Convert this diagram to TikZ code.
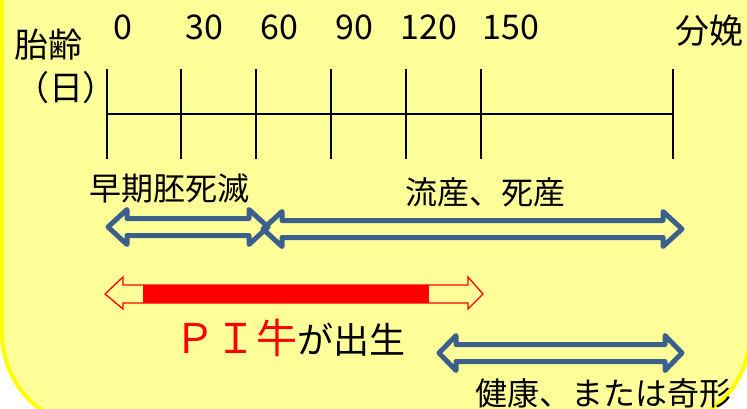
\documentclass[tikz,border=0pt]{standalone}
\usepackage{fontspec}
\setmainfont{Noto Sans CJK JP}
\definecolor{bgfill}{RGB}{255,255,153}
\definecolor{bgline}{RGB}{255,255,0}
\definecolor{arrblue}{RGB}{60,96,140}
\newcommand\mydblarrow[4]{%
  \draw[bluearr] (#1,#3) -- ({#1+#4},{#3-17.5}) -- ({#1+#4},{#3-8.5}) -- ({#2-#4},{#3-8.5})
    -- ({#2-#4},{#3-17.5}) -- (#2,#3) -- ({#2-#4},{#3+17.5}) -- ({#2-#4},{#3+8.5})
    -- ({#1+#4},{#3+8.5}) -- ({#1+#4},{#3+17.5}) -- cycle;}
\begin{document}
\begin{tikzpicture}[x=1pt,y=-1pt,
  axis/.style={line width=1.6pt,black},
  bluearr/.style={draw=arrblue,line width=5pt,line join=round,line cap=round},
  lbl/.style={inner sep=0pt,font=\fontsize{32}{38}\selectfont},
  axlbl/.style={inner sep=0pt,font=\fontsize{34}{40}\selectfont},
  num/.style={inner sep=0pt,font=\fontsize{34}{40}\selectfont}]
\useasboundingbox (0,0) rectangle (747,408);
\clip (0,0) rectangle (747,408);
\draw[fill=bgfill,draw=bgline,line width=4pt,rounded corners=95pt] (2,-120) rectangle (750,428);
% axis
\foreach \n/\x in {0/107,1/181,2/256,3/331,4/406,5/481,6/673}{
  \coordinate (t\n) at (\x,114);
  \coordinate (u\n) at (\x,69);
  \coordinate (d\n) at (\x,159);
  \draw[axis] (u\n) -- (d\n);
}
\draw[axis] (t0) -- (t6);
% numbers
\node[num] (n0) at (123,27) {0};
\node[num] (n30) at (204,27) {30};
\node[num] (n60) at (279,27) {60};
\node[num] (n90) at (354,27) {90};
\node[num] (n120) at (429,27) {120};
\node[num] (n150) at (511,27) {150};
\node[axlbl] (bun) at (709,31) {分娩};
\node[axlbl] (tai) at (48,45) {胎齢};
\node[axlbl] (nichi) at (66,88) {（日）};
% labels
\node[lbl] (early) at (169,188) {早期胚死滅};
\node[lbl] (ryu) at (485,192) {流産、死産};
\node[lbl] (ken) at (603,393) {健康、または奇形};
% blue arrows
\mydblarrow{108}{268}{227}{19}
\mydblarrow{263}{682}{229}{19}
\mydblarrow{439}{682}{353}{17}
% red arrow
\draw[draw=red,line width=1.3pt,fill=bgfill,line join=miter]
  (105,294) -- (123,277) -- (123,285) -- (468,285) -- (468,277) -- (483,294)
  -- (468,309) -- (468,303) -- (123,303) -- (123,309) -- cycle;
\fill[red] (143,285) rectangle (429,303);
\node[inner sep=0pt,anchor=base west] (pi) at (174,353)
  {{\color{red}\fontsize{41}{46}\selectfont ＰＩ牛}{\fontsize{36}{42}\selectfont が出生}};
\end{tikzpicture}
\end{document}
